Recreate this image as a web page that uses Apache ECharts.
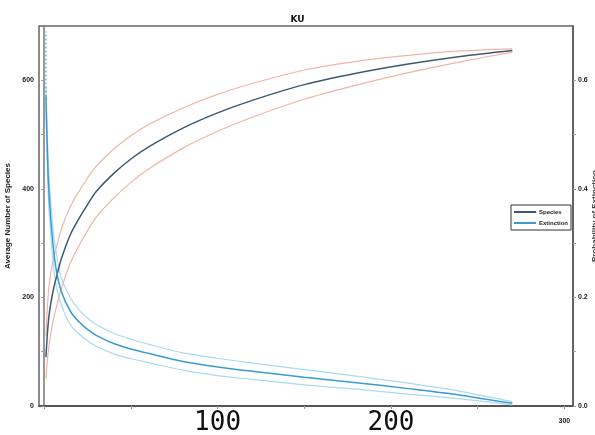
<!DOCTYPE html>
<html>
<head>
<meta charset="utf-8">
<script src="https://cdn.jsdelivr.net/npm/echarts@6/dist/echarts.min.js"></script>
<style>
  html, body { margin: 0; padding: 0; background: #fff; }
  #main { width: 595px; height: 435px; }
</style>
</head>
<body>
<div id="main"></div>
<script>
// number of subplots
var subplots = [1, 2, 3, 5, 7, 10, 15, 20, 25, 30, 40, 50, 60, 80, 100, 120, 150, 180, 210, 240, 270]

// average number of species (left axis)
var speciesMean  = [90, 140, 172, 210, 237, 272, 315, 345, 371, 395, 428, 455, 477, 512, 540, 563, 592, 613, 630, 644, 655]
var speciesUpper = [130, 190, 227, 265, 292, 327, 367, 395, 420, 442, 473, 498, 518, 549, 574, 594, 619, 635, 646, 654, 658]
var speciesLower = [50, 90, 117, 155, 182, 217, 263, 295, 323, 348, 383, 412, 436, 475, 506, 532, 565, 591, 614, 634, 652]

// extinction probability (right axis)
var extMean  = [0.57, 0.45, 0.38, 0.30, 0.25, 0.21, 0.175, 0.155, 0.141, 0.13, 0.115, 0.105, 0.097, 0.082, 0.072, 0.064, 0.053, 0.043, 0.032, 0.02, 0.005]
var extUpper = [0.59, 0.48, 0.41, 0.33, 0.28, 0.235, 0.2, 0.177, 0.162, 0.15, 0.134, 0.123, 0.114, 0.098, 0.088, 0.079, 0.067, 0.055, 0.042, 0.027, 0.008]
var extLower = [0.55, 0.42, 0.35, 0.27, 0.22, 0.185, 0.15, 0.133, 0.12, 0.11, 0.096, 0.087, 0.08, 0.066, 0.056, 0.049, 0.039, 0.031, 0.022, 0.013, 0.002]

// dotted spike at the first subplot
var extSpike = [[1, 0.57], [1, 0.69]]

var xTicks = [0, 50, 100, 150, 200, 250, 300]
var xLabels = [100, 200, 300]

function pairs(ys) {
    return subplots.map(function (x, i) { return [x, ys[i]] })
}

var myChart = echarts.init(document.getElementById('main'));

var smallFont = { fontFamily: 'Liberation Sans', fontSize: 7, fontWeight: 'bold', color: '#222' }

function curve(name, axis, ys, color, width, z) {
    return {
        name: name, type: 'line', yAxisIndex: axis, data: pairs(ys),
        smooth: 0.3, showSymbol: false, color: color,
        lineStyle: { color: color, width: width }, z: z
    }
}

option = {
    animation: false,
    backgroundColor: '#fff',
    title: {
        text: 'KU',
        left: 'center',
        top: 10,
        textStyle: { fontFamily: 'DejaVu Sans', fontSize: 9, fontWeight: 'bold', color: '#111' }
    },
    legend: {
        orient: 'vertical',
        left: 511,
        top: 205,
        data: ['Species', 'Extinction'],
        icon: 'rect',
        itemWidth: 22,
        itemHeight: 2,
        itemGap: 5,
        padding: [4, 3, 4, 3],
        borderColor: '#333',
        borderWidth: 1,
        textStyle: { fontFamily: 'Liberation Sans', fontSize: 6, fontWeight: 'bold', color: '#222', padding: [0, 0, 0, -2] }
    },
    grid: {
        left: 39,
        right: 22,
        top: 26,
        bottom: 29,
        outerBoundsMode: 'none',
        containLabel: false,
        show: true,
        borderColor: '#666',
        borderWidth: 1.5
    },
    xAxis: {
        type: 'value',
        min: -3,
        max: 305,
        name: 'Number of Subplots',
        nameLocation: 'middle',
        nameGap: 22,
        nameTextStyle: smallFont,
        splitLine: { show: false },
        axisLine: { lineStyle: { color: '#555', width: 2 } },
        axisTick: { customValues: xTicks, length: 3, lineStyle: { color: '#999' } },
        axisLabel: {
            customValues: xLabels,
            margin: 4,
            formatter: function (v) {
                return v === 300 ? '{s|' + v + '}' : '{b|' + v + '}'
            },
            rich: {
                b: { fontFamily: 'DejaVu Sans Mono', fontSize: 26, color: '#111', lineHeight: 26 },
                s: { fontFamily: 'Liberation Sans', fontSize: 7, fontWeight: 'bold', color: '#222', padding: [8, 0, 0, 0] }
            }
        }
    },
    yAxis: [
        {
            type: 'value',
            min: 0,
            max: 700,
            interval: 100,
            name: 'Average Number of Species',
            nameLocation: 'middle',
            nameGap: 24,
            nameTextStyle: { fontFamily: 'Liberation Sans', fontSize: 8, fontWeight: 'bold', color: '#222' },
            splitLine: { show: false },
            axisLine: { show: true, lineStyle: { color: '#777', width: 1.5 } },
            axisTick: { show: true, length: 3, lineStyle: { color: '#999' } },
            axisLabel: Object.assign({ margin: 5, showMaxLabel: false, formatter: function (v) {
                return v % 200 === 0 ? v : ''
            } }, smallFont)
        },
        {
            type: 'value',
            min: 0,
            max: 0.7,
            interval: 0.1,
            name: 'Probability of Extinction',
            nameLocation: 'middle',
            nameGap: 18,
            nameMoveOverlap: false,
            nameTextStyle: { fontFamily: 'Liberation Sans', fontSize: 8, fontWeight: 'bold', color: '#444' },
            splitLine: { show: false },
            axisLine: { show: true, lineStyle: { color: '#555', width: 1.5 } },
            axisTick: { show: true, length: 3, lineStyle: { color: '#999' } },
            axisLabel: Object.assign({ margin: 5, showMaxLabel: false, formatter: function (v) {
                var k = Math.round(v * 10)
                return k % 2 === 0 ? v.toFixed(1) : ''
            } }, smallFont)
        }
    ],
    series: [
        curve('Species upper', 0, speciesUpper, '#f2b4a6', 1.2, 1),
        curve('Species lower', 0, speciesLower, '#f2b4a6', 1.2, 1),
        curve('Extinction upper', 1, extUpper, '#a9dbf0', 1.2, 1),
        curve('Extinction lower', 1, extLower, '#a9dbf0', 1.2, 1),
        curve('Species', 0, speciesMean, '#3d5a70', 1.5, 3),
        curve('Extinction', 1, extMean, '#3b9bd0', 1.5, 3),
        {
            name: 'spike', type: 'line', yAxisIndex: 1, data: extSpike,
            showSymbol: false, lineStyle: { color: '#4aaee0', width: 1.2, type: [2, 2] }, z: 2
        }
    ]
};
myChart.setOption(option);
</script>
</body>
</html>
